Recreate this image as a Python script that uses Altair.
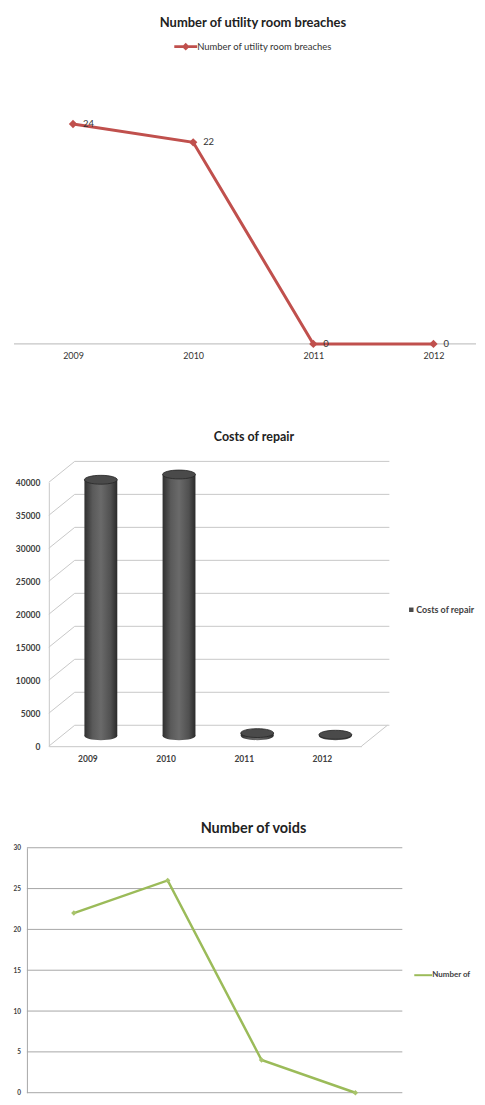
import altair as alt
import pandas as pd

FONT = "Lato"

# ---- data ----
years = ["2009", "2010", "2011", "2012"]
breaches = [24, 22, 0, 0]
repair_costs = [38800, 39600, 400, 150]
voids = [22, 26, 4, 0]
cost_ticks = [0, 5000, 10000, 15000, 20000, 25000, 30000, 35000, 40000]
count_ticks = [0, 5, 10, 15, 20, 25, 30]

breach_label = "Number of utility room breaches"
cost_label = "Costs of repair (£)"
voids_label = "Number of voids"

df1 = pd.DataFrame({"year": years, "value": breaches, "series": breach_label})
df2 = pd.DataFrame({"year": years, "value": repair_costs, "series": cost_label})
df3 = pd.DataFrame({"year": years, "value": voids, "series": voids_label})
ticks2 = pd.DataFrame({"v": cost_ticks})
floor2 = pd.DataFrame({"v": cost_ticks[:1]})
ticks3 = pd.DataFrame({"v": count_ticks})
base1 = pd.DataFrame({"v": [0]})
leg2 = pd.DataFrame({"series": [cost_label]})
leg3 = pd.DataFrame({"series": [voids_label]})

RED = "#C0504D"
GREEN = "#9BBB59"
TXT = "#333333"
W = 465  # every panel's plot area spans the page from x=12 to x=477
CUT = "\u200b"  # text running past the page edge is simply cut off

# ---------------- chart 1 : line ----------------
x1 = alt.X("year:N", sort=years,
           scale=alt.Scale(type="point", padding=0, range=[60.3, 422.3]),
           axis=alt.Axis(title=None, labelAngle=0, ticks=False, domain=False,
                         labelFontSize=9, labelColor=TXT, labelPadding=8, grid=False))
y1s = alt.Scale(domain=[0, 30], nice=False)
y1 = alt.Y("value:Q", scale=y1s, axis=None)

legend_path = "M-1,-0.12L1,-0.12L1,0.12L-1,0.12Z M0,-0.34L0.34,0L0,0.34L-0.34,0Z"

base_rule = alt.Chart(base1).mark_rule(color="#c6c6c6", strokeWidth=1.3).encode(
    y=alt.Y("v:Q", scale=y1s, axis=None), x=alt.value(1), x2=alt.value(W))
line1 = alt.Chart(df1).mark_line(color=RED, strokeWidth=3).encode(x=x1, y=y1)
pts1 = alt.Chart(df1).mark_point(shape="diamond", size=70, filled=True, opacity=1).encode(
    x=x1, y=y1,
    color=alt.Color("series:N", scale=alt.Scale(range=[RED]),
                    legend=alt.Legend(orient="none", legendX=162, legendY=-34, title=None,
                                      symbolType=legend_path, symbolSize=529,
                                      symbolStrokeWidth=0, labelFontSize=9.5,
                                      labelColor=TXT, labelOffset=0, padding=0)))
lab1 = alt.Chart(df1).mark_text(align="left", baseline="middle", dx=10, dy=0,
                                fontSize=9.5, color=TXT).encode(x=x1, y=y1, text="value:Q")

chart1 = alt.layer(base_rule, line1, pts1, lab1).properties(
    width=W, height=276,
    title=alt.TitleParams(breach_label, fontSize=13, fontWeight="bold", color="#222222",
                          anchor="middle", frame="group", dx=8.5, offset=5))

# ---------------- chart 2 : 3D cylinders ----------------
H2 = 265
FX0, FX1 = 36, 350       # front floor edge (plot coords)
DX, DY = 26, -21         # depth of the 3D box
y2s = alt.Scale(domain=[0, 40000], nice=False)
y2ax = alt.Axis(title=None, values=cost_ticks, format="d", ticks=False, domain=True,
                domainColor="#c8c8c8", grid=False, labelFontSize=8.5, labelFontWeight="bold",
                labelColor="#404040", labelPadding=9, labelOverlap=False, minExtent=0,
                offset=-FX0)
x2 = alt.X("year:N", sort=years,
           scale=alt.Scale(type="band", paddingInner=0, paddingOuter=0, range=[FX0, FX1]),
           axis=alt.Axis(title=None, labelAngle=0, ticks=False, domain=True,
                         domainColor="#c8c8c8", labelFontSize=8.5, labelFontWeight="bold",
                         labelColor="#404040", labelPadding=8))

grad = alt.Gradient(gradient="linear", x1=0, x2=1, y1=0, y2=0,
                    stops=[alt.GradientStop(color="#2f2f2f", offset=0),
                           alt.GradientStop(color="#5a5a5a", offset=0.25),
                           alt.GradientStop(color="#6a6a6a", offset=0.5),
                           alt.GradientStop(color="#505050", offset=0.8),
                           alt.GradientStop(color="#2a2a2a", offset=1)])
ELL = "M-1,0A1,0.27,0,1,1,1,0A1,0.27,0,1,1,-1,0Z"

wall = alt.Chart(ticks2).mark_rule(color="#c8c8c8", strokeWidth=1, yOffset=DY).encode(
    y=alt.Y("v:Q", scale=y2s, axis=y2ax), x=alt.value(FX0 + DX), x2=alt.value(FX1 + 28))
diag = alt.Chart(ticks2).mark_rule(color="#c8c8c8", strokeWidth=1, y2Offset=DY).encode(
    y=alt.Y("v:Q", scale=y2s, axis=y2ax), y2="v:Q", x=alt.value(FX0), x2=alt.value(FX0 + DX))
floor = alt.Chart(floor2).mark_rule(color="#c8c8c8", strokeWidth=1, y2Offset=DY).encode(
    y=alt.Y("v:Q", scale=y2s, axis=y2ax), y2="v:Q", x=alt.value(FX1), x2=alt.value(FX1 + DX))
bottoms = alt.Chart(df2).mark_point(shape=ELL, size=1089, filled=True, fill=grad,
                                    strokeWidth=0, opacity=1, xOffset=13, yOffset=DY / 2).encode(
    x=x2, y=alt.YDatum(0, scale=y2s, axis=y2ax))
bodies = alt.Chart(df2).mark_bar(size=33, fill=grad, xOffset=13, yOffset=DY / 2,
                                 y2Offset=DY / 2).encode(
    x=x2, y=alt.Y("value:Q", scale=y2s, axis=y2ax), y2=alt.datum(0))
tops = alt.Chart(df2).mark_point(shape=ELL, size=1089, filled=True, fill="#4a4a4a",
                                 stroke="#262626", strokeWidth=0.8, opacity=1,
                                 xOffset=13, yOffset=DY / 2).encode(
    x=x2, y=alt.Y("value:Q", scale=y2s, axis=y2ax))
leg2_sym = alt.Chart(leg2).mark_point(shape="square", size=20, filled=True, fill="#4a4a4a",
                                      opacity=1).encode(x=alt.value(400), y=alt.value(128))
leg2_txt = alt.Chart(leg2).mark_text(align="left", baseline="middle", fontSize=9,
                                     fontWeight="bold", color="#404040", limit=W - 405,
                                     ellipsis=CUT).encode(
    x=alt.value(405), y=alt.value(128), text="series:N")

chart2 = alt.layer(wall, diag, floor, bottoms, bodies, tops, leg2_sym, leg2_txt).properties(
    width=W, height=H2,
    title=alt.TitleParams("Costs of repair", fontSize=12.5, fontWeight="bold", color="#222222",
                          anchor="middle", frame="group", dx=9.5, offset=17))

# ---------------- chart 3 : line ----------------
AX3 = 14
x3 = alt.X("year:N", sort=years,
           scale=alt.Scale(type="point", padding=0.5, range=[AX3, AX3 + 377]), axis=None)
y3s = alt.Scale(domain=[0, 30], nice=False)
y3ax = alt.Axis(title=None, values=count_ticks, ticks=False, domain=True,
                domainColor="#a6a6a6", grid=False, labelFontSize=6.5,
                labelFontWeight="bold", labelColor="#404040", labelPadding=6.5,
                labelOverlap=False, minExtent=0, offset=-AX3)
y3 = alt.Y("value:Q", scale=y3s, axis=y3ax)

grid3 = alt.Chart(ticks3).mark_rule(color="#a6a6a6", strokeWidth=1).encode(
    y=alt.Y("v:Q", scale=y3s, axis=y3ax), x=alt.value(AX3), x2=alt.value(AX3 + 377))
line3 = alt.Chart(df3).mark_line(strokeWidth=2.5, color=GREEN).encode(x=x3, y=y3)
pts3 = alt.Chart(df3).mark_point(shape="diamond", size=30, filled=True, color="#A9C46C",
                                 opacity=1).encode(x=x3, y=y3)
leg3_sym = alt.Chart(leg3).mark_rule(color=GREEN, strokeWidth=2).encode(
    x=alt.value(403), x2=alt.value(421), y=alt.value(128))
leg3_txt = alt.Chart(leg3).mark_text(align="left", baseline="middle", fontSize=8,
                                     fontWeight="bold", color="#404040", limit=W - 421,
                                     ellipsis=CUT).encode(
    x=alt.value(421), y=alt.value(128), text="series:N")

chart3 = alt.layer(grid3, line3, pts3, leg3_sym, leg3_txt).properties(
    width=W, height=246,
    title=alt.TitleParams(voids_label, fontSize=14.5, fontWeight="bold", color="#222222",
                          anchor="middle", frame="group", dx=9, offset=8))

chart = alt.vconcat(
    chart1,
    alt.vconcat(chart2, chart3, spacing=58).resolve_scale(color="independent", x="independent", y="independent"),
    spacing=71,
).resolve_scale(color="independent", x="independent", y="independent").properties(
    padding={"left": 4, "top": 7, "right": 0, "bottom": 0}
).configure_view(strokeWidth=0).configure_axis(labelFont=FONT).configure_legend(
    labelFont=FONT).configure_title(font=FONT).configure_text(font=FONT)

chart.save("out.html", embed_options={"renderer": "svg", "actions": False})
